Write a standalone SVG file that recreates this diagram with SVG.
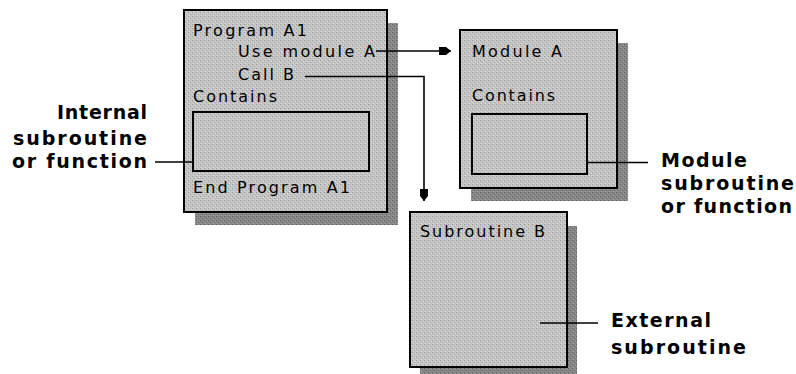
<svg xmlns="http://www.w3.org/2000/svg" width="796" height="374" viewBox="0 0 796 374">
  <style>
    .box { fill: url(#stipple); stroke: #000; stroke-width: 2; }
    .inner { fill: url(#stipple); stroke: #000; stroke-width: 2; }
    .shadow { fill: url(#stippleDark); stroke: none; }
    .t { font-family: "DejaVu Sans", "Liberation Sans", sans-serif; font-size: 16px; fill: #000; }
    .lbl { font-family: "DejaVu Sans", "Liberation Sans", sans-serif; font-size: 19px; font-weight: bold; fill: #000; }
    .wire { fill: none; stroke: #000; stroke-width: 1.6; }
  </style>
  <defs>
    <!-- light dotted fill for the boxes -->
    <pattern id="stipple" width="4" height="4" patternUnits="userSpaceOnUse">
      <rect width="4" height="4" fill="#c4c4c4"/>
      <rect x="0" y="0" width="1" height="1" fill="#9a9a9a"/>
      <rect x="2" y="2" width="1" height="1" fill="#a6a6a6"/>
      <rect x="1" y="3" width="1" height="1" fill="#dcdcdc"/>
      <rect x="3" y="1" width="1" height="1" fill="#d8d8d8"/>
    </pattern>
    <!-- darker dotted fill for the drop shadows -->
    <pattern id="stippleDark" width="4" height="4" patternUnits="userSpaceOnUse">
      <rect width="4" height="4" fill="#888"/>
      <rect x="0" y="0" width="1" height="1" fill="#5c5c5c"/>
      <rect x="2" y="2" width="1" height="1" fill="#646464"/>
      <rect x="1" y="3" width="1" height="1" fill="#a2a2a2"/>
      <rect x="3" y="1" width="1" height="1" fill="#9c9c9c"/>
    </pattern>
    <marker id="head" viewBox="0 -5 13 10" refX="12" refY="0" markerWidth="13" markerHeight="10" markerUnits="userSpaceOnUse" orient="auto">
      <path d="M0,-4 L7,-4 L12,0 L7,4 L0,4 Z" fill="#000"/>
    </marker>
  </defs>

  <!-- Program A1 -->
  <g id="program-a1">
    <rect class="shadow" x="195" y="23" width="203" height="202"/>
    <rect class="box" x="184" y="10" width="203" height="202"/>
    <rect class="inner" x="193" y="112" width="176" height="59"/>
    <text class="t" x="193" y="36" textLength="114" lengthAdjust="spacing">Program A1</text>
    <text class="t" x="238" y="57" textLength="137" lengthAdjust="spacing">Use module A</text>
    <text class="t" x="238" y="80" textLength="56" lengthAdjust="spacing">Call B</text>
    <text class="t" x="193" y="102" textLength="84" lengthAdjust="spacing">Contains</text>
    <text class="t" x="193" y="193" textLength="157" lengthAdjust="spacing">End Program A1</text>
  </g>

  <!-- Module A -->
  <g id="module-a">
    <rect class="shadow" x="471" y="43" width="157" height="158"/>
    <rect class="box" x="460" y="30" width="157" height="158"/>
    <rect class="inner" x="472" y="114" width="115" height="60"/>
    <text class="t" x="472" y="57" textLength="90" lengthAdjust="spacing">Module A</text>
    <text class="t" x="472" y="101" textLength="83" lengthAdjust="spacing">Contains</text>
  </g>

  <!-- Subroutine B -->
  <g id="subroutine-b">
    <rect class="shadow" x="420" y="226" width="157" height="155"/>
    <rect class="box" x="410" y="212" width="157" height="155"/>
    <text class="t" x="420" y="237" textLength="125" lengthAdjust="spacing">Subroutine B</text>
  </g>

  <!-- Callout labels -->
  <g id="label-internal">
    <text class="lbl" x="147" y="119" text-anchor="end" textLength="90" lengthAdjust="spacing">Internal</text>
    <text class="lbl" x="147" y="145" text-anchor="end" textLength="134" lengthAdjust="spacing">subroutine</text>
    <text class="lbl" x="147" y="168" text-anchor="end" textLength="135" lengthAdjust="spacing">or function</text>
  </g>
  <g id="label-module">
    <text class="lbl" x="661" y="167" textLength="86" lengthAdjust="spacing">Module</text>
    <text class="lbl" x="661" y="190" textLength="133" lengthAdjust="spacing">subroutine</text>
    <text class="lbl" x="661" y="213" textLength="131" lengthAdjust="spacing">or function</text>
  </g>
  <g id="label-external">
    <text class="lbl" x="611" y="327" textLength="100" lengthAdjust="spacing">External</text>
    <text class="lbl" x="611" y="354" textLength="135" lengthAdjust="spacing">subroutine</text>
  </g>

  <!-- Connectors -->
  <g id="connectors">
    <line class="wire" x1="376" y1="51" x2="451" y2="51" marker-end="url(#head)"/>
    <path class="wire" d="M305,76.5 H424 V201" marker-end="url(#head)"/>
    <line class="wire" x1="155" y1="162" x2="194" y2="162"/>
    <line class="wire" x1="588" y1="162.5" x2="648" y2="162.5"/>
    <line class="wire" x1="540" y1="323" x2="598" y2="323"/>
  </g>
</svg>
